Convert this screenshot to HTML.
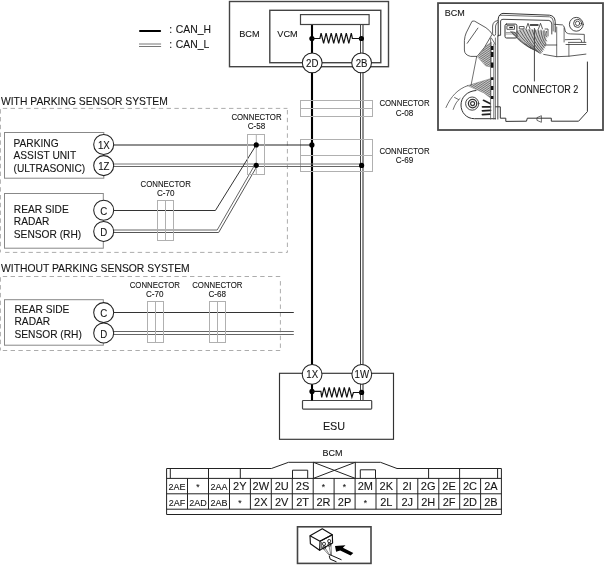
<!DOCTYPE html>
<html><head><meta charset="utf-8">
<style>
html,body{margin:0;padding:0;background:#fff;}
body{width:604px;height:565px;overflow:hidden;}
svg{display:block;transform:translateZ(0);}
text{font-family:"Liberation Sans",sans-serif;fill:#151515;stroke:#151515;stroke-width:0.1px;}
</style></head>
<body>
<svg width="604" height="565" viewBox="0 0 604 565">
<!-- legend -->
<line x1="140" y1="31" x2="160.1" y2="31" stroke="#000" stroke-width="2" stroke-linecap="round"/>
<line x1="139" y1="44" x2="161.1" y2="44" stroke="#777" stroke-width="1"/>
<line x1="139" y1="46.5" x2="161.1" y2="46.5" stroke="#777" stroke-width="1"/>
<g font-size="10.4"><text x="169.2" y="33.3">:</text><text x="175.8" y="33.3">CAN_H</text>
<text x="169.2" y="47.8">:</text><text x="175.8" y="47.8">CAN_L</text></g>

<!-- BCM/VCM top -->
<rect x="229.5" y="1.5" width="159" height="65.2" fill="none" stroke="#444" stroke-width="1.4"/>
<rect x="269.8" y="10.3" width="111" height="52.4" fill="none" stroke="#444" stroke-width="1.4"/>
<text x="239.2" y="36.9" font-size="9.8" textLength="20.4" lengthAdjust="spacingAndGlyphs">BCM</text>
<text x="277.3" y="36.9" font-size="9.8" textLength="20.4" lengthAdjust="spacingAndGlyphs">VCM</text>

<!-- wires -->
<g id="wires">
<line x1="312" y1="24" x2="312" y2="374" stroke="#000" stroke-width="2.1"/>
<line x1="360.5" y1="24" x2="360.5" y2="400" stroke="#444" stroke-width="1"/>
<line x1="363" y1="24" x2="363" y2="400" stroke="#555" stroke-width="1.3"/>
</g>

<rect x="300.5" y="14.6" width="68.6" height="9.9" fill="#fff" stroke="#444" stroke-width="1.2"/>
<circle cx="311.9" cy="38.5" r="2.6" fill="#000"/>
<circle cx="361.4" cy="38.5" r="2.6" fill="#000"/>
<polyline points="312,38.5 319.9,38.5 321.1,33.1 323.6,43.3 326.1,33.1 328.6,43.3 331.2,33.1 333.7,43.3 336.2,33.1 338.7,43.3 341.2,33.1 343.7,43.3 346.3,33.1 348.8,43.3 351.3,33.1 352.4,38.5 361.4,38.5" fill="none" stroke="#111" stroke-width="1.2" stroke-linejoin="miter"/>
<circle cx="312.2" cy="62.8" r="9.9" fill="#fff" stroke="#222" stroke-width="1.05"/>
<circle cx="361.6" cy="62.8" r="9.9" fill="#fff" stroke="#222" stroke-width="1.05"/>
<text text-anchor="middle" x="312.2" y="66.8" font-size="11" textLength="12.37" lengthAdjust="spacingAndGlyphs">2D</text>
<text text-anchor="middle" x="361.6" y="66.8" font-size="11" textLength="11.84" lengthAdjust="spacingAndGlyphs">2B</text>

<!-- connectors C-08, C-69 -->
<g fill="none" stroke="#b0b0b0" stroke-width="1">
<rect x="300.5" y="100.5" width="72" height="16"/>
<line x1="300.5" y1="108.5" x2="372.5" y2="108.5"/>
<rect x="300.5" y="139.5" width="72" height="32"/>
<line x1="300.5" y1="155.5" x2="372.5" y2="155.5"/>
</g>
<g font-size="8.5" text-anchor="middle">
<text x="404.5" y="106.3" textLength="50.2" lengthAdjust="spacingAndGlyphs">CONNECTOR</text>
<text x="404.5" y="115.8" textLength="17.6" lengthAdjust="spacingAndGlyphs">C-08</text>
<text x="404.5" y="153.7" textLength="50.2" lengthAdjust="spacingAndGlyphs">CONNECTOR</text>
<text x="404.5" y="162.7" textLength="17.6" lengthAdjust="spacingAndGlyphs">C-69</text>
</g>

<!-- WITH PARKING SENSOR SYSTEM -->
<text x="1" y="104.9" font-size="10.33">WITH PARKING SENSOR SYSTEM</text>
<g stroke="#a8a8a8" stroke-width="0.95" stroke-dasharray="4.4,3.4" fill="none">
<line x1="2.8" y1="108.4" x2="287.4" y2="108.4"/>
<line x1="0.4" y1="109.2" x2="0.4" y2="252.4"/>
<line x1="287.4" y1="110" x2="287.4" y2="252.4"/>
<line x1="5.1" y1="252.4" x2="287.4" y2="252.4"/>
</g>
<rect x="4.5" y="132.5" width="99.3" height="45.7" fill="none" stroke="#888" stroke-width="1"/>
<g font-size="10.2">
<text x="13.5" y="146.8">PARKING</text>
<text x="13.5" y="158.8">ASSIST UNIT</text>
<text x="13.5" y="171.5">(ULTRASONIC)</text>
</g>
<rect x="4.5" y="193.5" width="98.8" height="54.7" fill="none" stroke="#888" stroke-width="1"/>
<g font-size="10.2">
<text x="13.8" y="212.8">REAR SIDE</text>
<text x="13.8" y="225.1">RADAR</text>
<text x="13.8" y="237.7">SENSOR (RH)</text>
</g>

<!-- wires upper section -->
<g fill="none">
<line x1="113" y1="145" x2="311.7" y2="145" stroke="#222" stroke-width="1.1"/>
<line x1="113" y1="164" x2="361.6" y2="164" stroke="#777" stroke-width="1"/>
<line x1="113" y1="166.5" x2="361.6" y2="166.5" stroke="#666" stroke-width="1"/>
<polyline points="113,210.5 215.4,210.5 256.2,145" stroke="#333" stroke-width="1"/>
<polyline points="113,230 217.2,230 255.0,164.5" stroke="#666" stroke-width="1"/>
<polyline points="113,232.5 218.65,232.5 256.8,166.5" stroke="#555" stroke-width="1"/>
</g>
<g fill="none" stroke="#b0b0b0" stroke-width="1">
<rect x="247.5" y="134.5" width="17" height="40"/>
<line x1="256.3" y1="134.5" x2="256.3" y2="174.5"/>
<rect x="157.5" y="200.5" width="16" height="40"/>
<line x1="165.5" y1="200.5" x2="165.5" y2="240.5"/>
</g>
<circle cx="256.2" cy="144.9" r="2.6" fill="#000"/>
<circle cx="256.2" cy="165.3" r="2.6" fill="#000"/>
<circle cx="311.9" cy="144.9" r="2.6" fill="#000"/>
<circle cx="361.6" cy="165.4" r="2.6" fill="#000"/>
<g font-size="8.5" text-anchor="middle">
<text x="256.5" y="119.6" textLength="50.2" lengthAdjust="spacingAndGlyphs">CONNECTOR</text>
<text x="256.5" y="128.7" textLength="17.6" lengthAdjust="spacingAndGlyphs">C-58</text>
<text x="165.7" y="186.8" textLength="50.2" lengthAdjust="spacingAndGlyphs">CONNECTOR</text>
<text x="165.7" y="196.3" textLength="17.6" lengthAdjust="spacingAndGlyphs">C-70</text>
</g>
<g>
<circle cx="103.7" cy="144.5" r="10" fill="#fff" stroke="#222" stroke-width="1.05"/>
<circle cx="103.7" cy="165.6" r="10" fill="#fff" stroke="#222" stroke-width="1.05"/>
<circle cx="103.7" cy="210.3" r="10" fill="#fff" stroke="#222" stroke-width="1.05"/>
<circle cx="103.7" cy="231.4" r="10" fill="#fff" stroke="#222" stroke-width="1.05"/>
</g>
<g font-size="11" text-anchor="middle">
<text x="103.8" y="149.1" textLength="11.84" lengthAdjust="spacingAndGlyphs">1X</text>
<text x="103.8" y="170.2" textLength="11.30" lengthAdjust="spacingAndGlyphs">1Z</text>
<text x="103.8" y="215.0" textLength="6.99" lengthAdjust="spacingAndGlyphs">C</text>
<text x="103.8" y="236.1" textLength="6.99" lengthAdjust="spacingAndGlyphs">D</text>
</g>

<!-- WITHOUT PARKING SENSOR SYSTEM -->
<text x="1" y="271.9" font-size="10.35">WITHOUT PARKING SENSOR SYSTEM</text>
<g stroke="#a8a8a8" stroke-width="0.95" stroke-dasharray="4.4,3.4" fill="none">
<line x1="2.8" y1="276.5" x2="280.5" y2="276.5"/>
<line x1="0.4" y1="277.3" x2="0.4" y2="350.5"/>
<line x1="280.4" y1="281.1" x2="280.4" y2="350.5"/>
<line x1="2.8" y1="350.5" x2="280.5" y2="350.5"/>
</g>
<rect x="4.5" y="299.7" width="98.8" height="45.5" fill="none" stroke="#888" stroke-width="1"/>
<g font-size="10.2">
<text x="14.5" y="312.6">REAR SIDE</text>
<text x="14.5" y="325">RADAR</text>
<text x="14.5" y="337.5">SENSOR (RH)</text>
</g>
<g fill="none">
<line x1="113" y1="312.5" x2="293.8" y2="312.5" stroke="#333" stroke-width="1"/>
<line x1="113" y1="331.5" x2="293.8" y2="331.5" stroke="#666" stroke-width="1"/>
<line x1="113" y1="334.5" x2="293.8" y2="334.5" stroke="#666" stroke-width="1"/>
</g>
<g fill="none" stroke="#b0b0b0" stroke-width="1">
<rect x="147.5" y="301.5" width="16" height="41"/>
<line x1="155.5" y1="301.5" x2="155.5" y2="342.5"/>
<rect x="209.5" y="301.5" width="16" height="41"/>
<line x1="217.5" y1="301.5" x2="217.5" y2="342.5"/>
</g>
<g font-size="8.5" text-anchor="middle">
<text x="154.8" y="287.9" textLength="50.2" lengthAdjust="spacingAndGlyphs">CONNECTOR</text>
<text x="154.8" y="296.9" textLength="17.6" lengthAdjust="spacingAndGlyphs">C-70</text>
<text x="217.3" y="287.9" textLength="50.2" lengthAdjust="spacingAndGlyphs">CONNECTOR</text>
<text x="217.3" y="296.9" textLength="17.6" lengthAdjust="spacingAndGlyphs">C-68</text>
</g>
<g>
<circle cx="103.7" cy="312.6" r="10" fill="#fff" stroke="#222" stroke-width="1.05"/>
<circle cx="103.7" cy="332.9" r="10" fill="#fff" stroke="#222" stroke-width="1.05"/>
</g>
<g font-size="11" text-anchor="middle">
<text x="103.8" y="317.4" textLength="6.99" lengthAdjust="spacingAndGlyphs">C</text>
<text x="103.8" y="337.7" textLength="6.99" lengthAdjust="spacingAndGlyphs">D</text>
</g>

<!-- ESU -->
<rect x="279.5" y="373.3" width="114" height="66" fill="none" stroke="#333" stroke-width="1.15"/>
<rect x="302.5" y="400.5" width="69.2" height="8.6" rx="0.8" fill="#fff" stroke="#444" stroke-width="1.2"/>
<line x1="312" y1="374" x2="312" y2="400.5" stroke="#000" stroke-width="2.1"/>
<circle cx="312" cy="391.4" r="2.6" fill="#000"/>
<circle cx="361.6" cy="392.4" r="2.6" fill="#000"/>
<polyline points="312.0,391.4 320.9,391.4 321.7,397.3 324.2,387.3 326.7,397.3 329.2,387.3 331.8,397.3 334.3,387.3 336.8,397.3 339.3,387.3 341.8,397.3 344.3,387.3 346.8,397.3 349.3,387.3 351.9,397.3 353.4,392.5 361.8,392.5" fill="none" stroke="#111" stroke-width="1.2"/>
<circle cx="312.1" cy="374.3" r="9.9" fill="#fff" stroke="#222" stroke-width="1.05"/>
<circle cx="361.8" cy="374.3" r="9.9" fill="#fff" stroke="#222" stroke-width="1.05"/>
<text text-anchor="middle" x="312.2" y="378.4" font-size="11" textLength="11.84" lengthAdjust="spacingAndGlyphs">1X</text>
<text text-anchor="middle" x="361.8" y="378.4" font-size="11" textLength="14.52" lengthAdjust="spacingAndGlyphs">1W</text>
<text x="334" y="429.9" font-size="10.8" text-anchor="middle">ESU</text>

<!-- BCM connector table -->
<text x="332.4" y="455.6" font-size="9.6" text-anchor="middle" textLength="20" lengthAdjust="spacingAndGlyphs">BCM</text>
<g fill="none" stroke="#222" stroke-width="1">
<path d="M166.6,514.5 V468.5 H271.4 L288.5,462.3 H380.5 L397,468.5 H501.4 V514.5 Z"/>
<line x1="166.6" y1="478.4" x2="501.4" y2="478.4"/>
<line x1="166.6" y1="493.8" x2="501.4" y2="493.8"/>
<line x1="166.6" y1="509.2" x2="501.4" y2="509.2"/>
<line x1="170.3" y1="468.5" x2="170.3" y2="478.4"/>
<line x1="497.6" y1="468.5" x2="497.6" y2="478.4"/>
<line x1="208.5" y1="468.5" x2="208.5" y2="478.4"/>
<line x1="240.3" y1="468.5" x2="240.3" y2="478.4"/>
<line x1="428.6" y1="468.5" x2="428.6" y2="478.4"/>
<line x1="459.6" y1="468.5" x2="459.6" y2="478.4"/>
<path d="M292.5,478.4 V470.2 H307.7 V478.4"/>
<path d="M360.3,478.4 V469.8 H375.5 V478.4"/>
<path d="M313.4,462.3 V478.4 M355.3,462.3 V478.4 M313.4,462.3 L355.3,478.4 M355.3,462.3 L313.4,478.4"/>
<path d="M187.5,478.4V509.2 M208.5,478.4V509.2 M229.5,478.4V509.2 M250.4,478.4V509.2 M271.3,478.4V509.2 M292.3,478.4V509.2 M313.2,478.4V509.2 M334.1,478.4V509.2 M355.1,478.4V509.2 M376,478.4V509.2 M396.9,478.4V509.2 M417.8,478.4V509.2 M438.8,478.4V509.2 M459.7,478.4V509.2 M480.6,478.4V509.2"/>
</g>
<g text-anchor="middle">
<text x="177.1" y="490.0" font-size="9.8" textLength="17.04" lengthAdjust="spacingAndGlyphs">2AE</text>
<text x="198.0" y="490.1" font-size="8.5">*</text>
<text x="218.9" y="490.0" font-size="9.8" textLength="17.04" lengthAdjust="spacingAndGlyphs">2AA</text>
<text x="239.8" y="490.0" font-size="11">2Y</text>
<text x="260.8" y="490.0" font-size="11">2W</text>
<text x="281.7" y="490.0" font-size="11">2U</text>
<text x="302.6" y="490.0" font-size="11">2S</text>
<text x="323.5" y="490.1" font-size="8.5">*</text>
<text x="344.5" y="490.1" font-size="8.5">*</text>
<text x="365.4" y="490.0" font-size="11">2M</text>
<text x="386.3" y="490.0" font-size="11">2K</text>
<text x="407.2" y="490.0" font-size="11">2I</text>
<text x="428.2" y="490.0" font-size="11">2G</text>
<text x="449.1" y="490.0" font-size="11">2E</text>
<text x="470.0" y="490.0" font-size="11">2C</text>
<text x="490.9" y="490.0" font-size="11">2A</text>
<text x="177.1" y="505.5" font-size="9.8" textLength="16.54" lengthAdjust="spacingAndGlyphs">2AF</text>
<text x="198.0" y="505.5" font-size="9.8" textLength="17.54" lengthAdjust="spacingAndGlyphs">2AD</text>
<text x="218.9" y="505.5" font-size="9.8" textLength="17.04" lengthAdjust="spacingAndGlyphs">2AB</text>
<text x="239.8" y="505.8" font-size="8.5">*</text>
<text x="260.8" y="505.5" font-size="11">2X</text>
<text x="281.7" y="505.5" font-size="11">2V</text>
<text x="302.6" y="505.5" font-size="11">2T</text>
<text x="323.5" y="505.5" font-size="11">2R</text>
<text x="344.5" y="505.5" font-size="11">2P</text>
<text x="365.4" y="505.8" font-size="8.5">*</text>
<text x="386.3" y="505.5" font-size="11">2L</text>
<text x="407.2" y="505.5" font-size="11">2J</text>
<text x="428.2" y="505.5" font-size="11">2H</text>
<text x="449.1" y="505.5" font-size="11">2F</text>
<text x="470.0" y="505.5" font-size="11">2D</text>
<text x="490.9" y="505.5" font-size="11">2B</text>
</g>

<!-- bottom icon -->
<rect x="297.5" y="526.8" width="73.5" height="36.6" fill="none" stroke="#444" stroke-width="1.6"/>
<g fill="none" stroke="#111" stroke-width="1.15" stroke-linejoin="round">
<path d="M310,535.7 L322.3,528.8 L332.3,534.8 L320,541.2 Z" fill="#fff"/>
<path d="M310,535.7 L310.4,543.7 L319.6,550.3 L320,541.2"/>
<path d="M320,541.2 L332.3,534.8 L332.6,543 L319.6,550.3"/>
<path d="M321.3,542 L321.3,549.2" stroke="#666" stroke-width="1.2"/>
<rect x="322.6" y="542.4" width="2.8" height="3" rx="1" stroke-width="1"/>
<rect x="322.9" y="546" width="2.8" height="3" rx="1" stroke-width="1"/>
<rect x="327.8" y="539.6" width="2.8" height="3" rx="1" stroke-width="1"/>
<rect x="328.1" y="543.2" width="2.8" height="3" rx="1" stroke-width="1"/>
<path d="M323.5,549 L329.5,555.5 M325.5,548.5 L330,555.5 M329,546 L331,555.5 M331,545.5 L331.5,555" stroke="#777" stroke-width="0.9"/>
<path d="M329.5,554.5 L341.5,559.8" stroke-width="1"/>
<path d="M329.2,555.8 L330.2,559.2 L336.5,561.8" stroke-width="1"/>
</g>
<path d="M335.0,546.0 L345.5,545.3 L342.9,547.8 L353.3,553.0 L350.6,555.6 L340.2,550.4 L336.1,551.8 Z" fill="#000"/>

<!-- BCM photo -->
<rect x="438" y="3.1" width="165" height="126.9" fill="none" stroke="#4a4a4a" stroke-width="1.8"/>
<defs>
<pattern id="hatch" width="1.6" height="1.6" patternUnits="userSpaceOnUse" patternTransform="rotate(30)">
<rect width="1.6" height="1.6" fill="#ccc"/><rect width="1.6" height="0.6" fill="#555"/>
</pattern>
<pattern id="hatch2" width="2" height="2" patternUnits="userSpaceOnUse" patternTransform="rotate(50)">
<rect width="2" height="2" fill="#999"/><rect width="2" height="1" fill="#222"/>
</pattern>
</defs>
<g fill="none" stroke="#333" stroke-width="0.9" stroke-linejoin="round" stroke-linecap="round">
<!-- hatched bundles -->
<path d="M478,57 L486,46 L491.4,42 L491.4,67 L486,66 Z" fill="url(#hatch)" stroke="#777" stroke-width="0.5"/>
<path d="M467.8,85.6 L491,78.5 L491,98.5 L484,93 Z" fill="url(#hatch)" stroke="#777" stroke-width="0.5"/>
<!-- flap -->
<path d="M472.3,21.2 Q473,20.8 474.7,21.2 L485.9,27.7 Q490,30.5 492.2,34.1 L484.3,47.6 L477.1,56.4 L470.7,56.4 Q464.4,55 464.4,50 L464.4,40.5 Q464.8,36 466,33.3 Z" fill="#fff" stroke-width="0.8"/>
<path d="M477.9,28.1 L467.2,43.3" stroke-width="0.8"/>
<path d="M476.7,56.4 L471.1,85" stroke-width="0.7"/>
<!-- left arcs -->
<path d="M446,107.5 C451,96 458,89 467.8,85.6" stroke-width="0.7"/>
<path d="M453.2,109.4 C455,104 457,101 460,98.5" stroke-width="0.7"/>
<path d="M454.6,97.5 L458.5,99.5" stroke-width="0.7"/>
<!-- housing with bolt -->
<path d="M476,90.5 C467,91 461,97.5 461,105 C461,112.5 466.5,118.7 474.4,118.7 L495.6,118.7" fill="#fff" stroke-width="1"/>
<circle cx="472.2" cy="103.6" r="6.6" stroke-width="0.9"/>
<circle cx="472.6" cy="103.6" r="4.2" stroke-width="1.3"/>
<circle cx="472.6" cy="103.6" r="2" stroke-width="1.1"/>
<path d="M483.5,100.3 L490,103.5 M482.5,106.8 L490.5,106.8 M482.4,110.8 L490.5,110.4 M482.4,114.7 L490,114.2" stroke="#222" stroke-width="1.7"/>
<!-- vertical connector strip -->
<path d="M490.6,38.5 V119 M493.8,44 V119" stroke="#555" stroke-width="0.8"/>
<path d="M491.3,37.9 L495.4,44.5" stroke-width="0.7"/>
<path d="M492.2,46 V50 M492.2,52 V57 M492.2,62.4 V67.8 M492.2,77.3 V80 M492.2,86 V90 M492.2,96 V99" stroke="#111" stroke-width="2.4" stroke-linecap="butt"/>
<path d="M495.4,38 V119" stroke="#555" stroke-width="0.8"/>
<path d="M497.8,36 V119" stroke="#666" stroke-width="1.2"/>
<!-- outer frame left arm -->
<path d="M497.8,20.6 Q493,21 492.6,26 V33.5 Q492.8,35.7 494.5,35.7 Q495.6,35.5 495.6,33.5 V26 Q495.8,23 498.2,22" stroke-width="0.8"/>
<!-- body top frame -->
<path d="M498.2,36 V19 Q498.8,13.8 503,13.4 L549.5,15.2 Q554.8,15.8 555.2,21.5 L555.2,32" stroke-width="1"/>
<path d="M499.5,15.5 Q500.5,15.3 503,15.3 L549.5,16.8 Q553,17.5 553.2,21 V31" stroke-width="0.7"/>
<path d="M498.2,35.3 H500.6 V21 Q500.8,19.3 503,19.3 L548.9,20.4 Q551.6,20.8 551.8,24 L551.8,34" stroke-width="0.9"/>
<!-- body bottom/right -->
<path d="M495.6,106.8 H500.3 V118.2 H505.8 V121.4 L526.5,121.2 L527.3,118.2 H551.3 V121.2 H578.6 L587.4,111.6 V62" stroke-width="1"/>
<path d="M537.3,117.5 L541.4,115.7 V122.3 L537.3,120.5 Z" stroke-width="0.7"/>
<!-- connector 2 block -->
<path d="M513,32 L533,49 L540.3,53.5 L546,45 L547,31 L522,29 Z" fill="#c8c8c8" stroke="none"/>
<rect x="505" y="24.1" width="11.9" height="13.9" rx="1.5" fill="#fff" stroke-width="1"/>
<rect x="507.3" y="25.7" width="7.2" height="3.6" stroke-width="0.8"/>
<rect x="509.3" y="26.9" width="3.6" height="1.2" fill="#111" stroke="none"/>
<path d="M506.2,32.5 H516 M506.2,34 H516" stroke="#777" stroke-width="0.7"/>
<path d="M510.6,31.2 Q518.8,41.9 531.0,48.5 M512.0,31.4 Q520.5,42.5 533.0,49.5 M514.0,31.8 Q522.5,43.1 535.0,50.5 M517.0,31.5 Q525.0,43.5 537.0,51.5 M520.0,30.5 Q527.2,43.5 538.5,52.5 M523.0,30.0 Q529.6,43.9 540.3,53.8 M526.0,29.5 Q531.8,43.2 541.5,53.0 M529.0,29.5 Q533.8,42.5 542.5,51.5 M532.0,29.5 Q535.8,41.8 543.5,50.0 M535.0,29.5 Q537.8,40.8 544.5,48.0 M538.0,29.5 Q539.6,39.8 545.2,46.0 M541.0,30.0 Q541.5,39.0 546.0,44.0 M544.0,30.5 Q543.2,37.8 546.5,41.0 M546.5,31.5 Q544.8,36.2 547.0,37.0" stroke="#3a3a3a" stroke-width="0.75"/>
<rect x="519.7" y="26.5" width="4.4" height="2.4" stroke-width="0.8"/>
<path d="M526,28.9 L528,23.3 L530,28.9 M538.5,28.9 L540.5,23.3 L542.5,28.9" stroke-width="0.8"/>
<path d="M530.4,25 H538" stroke="#111" stroke-width="1.5"/>
<path d="M545,29 L548,29 V36" stroke-width="0.8"/>
<path d="M534.4,28.5 V81" stroke="#444" stroke-width="1"/>
<!-- right bracket -->
<path d="M554.6,24.3 L562.5,24.9 C564.3,26 564.6,28 565.2,31 C566,33 568,33.9 570.5,33.9 L584.3,34.4 V41.8" stroke-width="0.8"/>
<path d="M565.2,39.7 L580,39.2 C581,39.6 581.6,40.5 581.6,41.8" stroke-width="0.8"/>
<path d="M568.4,42.4 H585.9 M566,44.5 H585.9" stroke-width="0.8"/>
<path d="M556.7,27 V56.7 M564.1,28 V42 M568.9,44 V56.2" stroke-width="0.7"/>
<path d="M545,45 H556.7 M543.7,54.4 L556.7,56.7 L568.9,56.2 L585.9,54.1" stroke-width="0.8"/>
<circle cx="576.3" cy="24.3" r="6.9" stroke-width="0.9"/>
<circle cx="577.6" cy="23.4" r="4" stroke-width="0.9"/>
<circle cx="577.6" cy="23.4" r="2.2" stroke-width="0.8"/>
</g>
<text x="444.8" y="15.6" font-size="9.8" textLength="20.04" lengthAdjust="spacingAndGlyphs">BCM</text>
<text x="512.6" y="92.7" font-size="10.1" textLength="65.8" lengthAdjust="spacingAndGlyphs">CONNECTOR 2</text>
</svg>
</body></html>
